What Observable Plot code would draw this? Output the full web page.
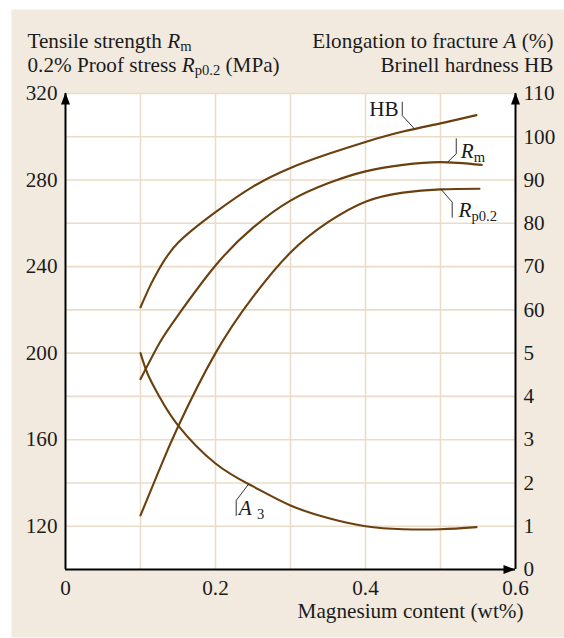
<!DOCTYPE html>
<html>
<head>
<meta charset="utf-8">
<script src="https://cdn.jsdelivr.net/npm/d3@7"></script>
<script src="https://cdn.jsdelivr.net/npm/@observablehq/plot@0.6"></script>
<style>
  body { margin: 0; background: #fff; }
  #chart svg { display: block; }
</style>
</head>
<body>
<div id="chart"></div>
<script>
// Magnesium content (wt%) and the measured properties of the alloy
const hbMg     = [0.100, 0.113, 0.125, 0.150, 0.200, 0.250, 0.300, 0.350, 0.400, 0.450, 0.500, 0.548];
const hbValues = [60.6, 65.6, 69.5, 75.5, 82.6, 88.5, 92.8, 96.0, 98.8, 101.2, 103.1, 105.0]; // Brinell hardness HB

const rmMg     = [0.100, 0.125, 0.150, 0.200, 0.250, 0.300, 0.350, 0.400, 0.450, 0.500, 0.555];
const rmValues = [188, 204.5, 217.5, 240.5, 258, 270.5, 278.5, 284, 287, 288.3, 287]; // tensile strength Rm, MPa

const rpMg     = [0.100, 0.125, 0.150, 0.200, 0.250, 0.300, 0.350, 0.400, 0.450, 0.500, 0.552];
const rpValues = [125, 146, 166, 200, 226, 246.5, 260.5, 270, 274.2, 275.7, 276]; // 0.2% proof stress, MPa

const aMg      = [0.100, 0.110, 0.125, 0.150, 0.200, 0.250, 0.300, 0.350, 0.400, 0.450, 0.500, 0.548];
const aValues  = [5.0, 4.5, 4.0, 3.33, 2.45, 1.92, 1.48, 1.19, 1.0, 0.93, 0.93, 0.98]; // elongation A, %

// Axis ticks
const xTicks = [0, 0.2, 0.4, 0.6];
const xTickLabels = ["0", "0.2", "0.4", "0.6"];
const leftTicks = [120, 160, 200, 240, 280, 320];
const rightTickLabels = ["0", "1", "2", "3", "4", "5", "60", "70", "80", "90", "100", "110"];

// Titles (*italic*, _{subscript})
const leftTitle = ["Tensile strength *R*_{m}", "0.2% Proof stress *R*_{p0.2} (MPa)"];
const rightTitle = ["Elongation to fracture *A* (%)", "Brinell hardness HB"];
const xTitle = "Magnesium content (wt%)";

// Curve labels and their leader lines (stress-axis coordinates)
const curveLabels = [
  {text: "HB", x: 0.405, y: 309.5},
  {text: "*R*_{m}", x: 0.527, y: 290.1},
  {text: "*R*_{p0.2}", x: 0.524, y: 262.8},
  {text: "*A* _{3}", x: 0.231, y: 125.0}
];
const leaderLines = [
  {id: "HB",  x: [0.449, 0.449, 0.465], y: [316.0, 309.8, 303.8]},
  {id: "Rm",  x: [0.521, 0.521, 0.510], y: [299.1, 292.1, 288.5]},
  {id: "Rp",  x: [0.5156, 0.5156, 0.501], y: [262.8, 269.8, 275.6]},
  {id: "A",   x: [0.2276, 0.2276, 0.244], y: [125.0, 131.9, 139.4]}
];

// The right axis is split: elongation 0–5 % in the lower part, hardness 60–110 HB above it.
// Both share the stress scale (100–320 MPa) drawn on the left.
const hbToStress = v => 220 + (v - 60) * 2;
const aToStress = v => 100 + v * 20;
const rightTicks = rightTickLabels.map((s, i) => i < 6 ? aToStress(+s) : hbToStress(+s));
const rightLabelOf = new Map(rightTicks.map((t, i) => [t, rightTickLabels[i]]));
const xLabelOf = new Map(xTicks.map((t, i) => [t, xTickLabels[i]]));

const rows = [
  ...hbMg.map((m, i) => ({series: "HB", mg: m, y: hbToStress(hbValues[i])})),
  ...rmMg.map((m, i) => ({series: "Rm", mg: m, y: rmValues[i]})),
  ...rpMg.map((m, i) => ({series: "Rp", mg: m, y: rpValues[i]})),
  ...aMg.map((m, i) => ({series: "A", mg: m, y: aToStress(aValues[i])}))
];
const leaderRows = leaderLines.flatMap(l => l.x.map((x, i) => ({id: l.id, x, y: l.y[i]})));

const brown = "#6b400f";
const grid = "#eadcc9";
const panel = "#f2eadf";
const ink = "#1b1b1b";
const font = "'Liberation Serif', 'Times New Roman', serif";

// filled arrowhead pointing along the vector
const arrowHead = {
  draw(ctx, l, r) {
    ctx.moveTo(0, -l);
    ctx.lineTo(r, 0);
    ctx.lineTo(-r, 0);
    ctx.closePath();
  }
};

const titleMark = (text, anchor, dx, dy) =>
  Plot.text([text], {text: d => d, frameAnchor: anchor, textAnchor: anchor.endsWith("left") ? "start" : "end",
                     lineAnchor: "bottom", dx, dy, fill: ink});

const chart = Plot.plot({
  width: 564,
  height: 638,
  marginLeft: 65,
  marginRight: 49,
  marginTop: 93,
  marginBottom: 69,
  x: {domain: [0, 0.6]},
  y: {domain: [100, 320]},
  style: {background: "transparent", fontFamily: font, fontSize: "21.2px", color: ink, overflow: "visible"},
  marks: [
    Plot.frame({fill: panel, stroke: "none", insetLeft: -54, insetTop: -84, insetRight: -49, insetBottom: -68}),
    Plot.frame({fill: "white", stroke: "none"}),
    Plot.gridY(d3.range(120, 321, 20), {stroke: grid, strokeOpacity: 1, strokeWidth: 1.6}),
    Plot.gridX([0.1, 0.2, 0.3, 0.4, 0.5], {stroke: grid, strokeOpacity: 1, strokeWidth: 1.6}),
    Plot.line(rows, {x: "mg", y: "y", z: "series", stroke: brown, strokeWidth: 2.1, curve: "natural"}),
    Plot.line(leaderRows, {x: "x", y: "y", z: "id", stroke: ink, strokeWidth: 0.9}),
    Plot.text(curveLabels, {x: "x", y: "y", text: "text", textAnchor: "start", lineAnchor: "bottom", fill: ink}),
    // axis lines with arrowheads
    Plot.ruleX([0, 0.6], {y1: 100, y2: 320, stroke: "#000", strokeWidth: 2}),
    Plot.ruleY([100], {x1: 0, x2: 0.6, stroke: "#000", strokeWidth: 2}),
    Plot.vector([0, 0.6], {x: d => d, y: 320, length: 12, r: 4.5, anchor: "end", shape: arrowHead, fill: "#000", stroke: "none", dy: -1}),
    Plot.vector([0.6], {x: d => d, y: 100, length: 12, r: 4.5, rotate: 90, anchor: "end", shape: arrowHead, fill: "#000", stroke: "none"}),
    // tick labels
    Plot.axisY(leftTicks, {anchor: "left", tickSize: 0, tickPadding: 8, label: null, fill: ink}),
    Plot.axisY(rightTicks, {anchor: "right", tickSize: 0, tickPadding: 8, label: null, fill: ink,
                            tickFormat: d => rightLabelOf.get(d)}),
    Plot.axisX(xTicks, {tickSize: 0, tickPadding: 10, label: null, fill: ink, tickFormat: d => xLabelOf.get(d)}),
    // axis titles
    titleMark(leftTitle[0], "top-left", -38, -46),
    titleMark(leftTitle[1], "top-left", -38, -22),
    titleMark(rightTitle[0], "top-right", 38, -46),
    titleMark(rightTitle[1], "top-right", 38, -22),
    titleMark(xTitle, "bottom-right", 8, 48)
  ]
});

// Turn *italic* and _{subscript} markup into tspans
const subSize = "14.6px";
const subDrop = 3.5;
d3.select(chart).selectAll("text").each(function () {
  const s = this.textContent;
  if (!/[*]|_\{/.test(s)) return;
  const el = d3.select(this);
  el.text(null);
  let shift = 0;
  for (const m of s.matchAll(/\*([^*]+)\*|_\{([^}]+)\}|([^*_]+)/g)) {
    const t = el.append("tspan");
    if (m[2] != null) {
      t.text(m[2]).attr("font-size", subSize).attr("dy", subDrop - shift);
      shift = subDrop;
    } else {
      t.text(m[1] ?? m[3]);
      if (m[1] != null) t.attr("font-style", "italic");
      if (shift) { t.attr("dy", -shift); shift = 0; }
    }
  }
});

document.getElementById("chart").append(chart);
</script>
</body>
</html>
